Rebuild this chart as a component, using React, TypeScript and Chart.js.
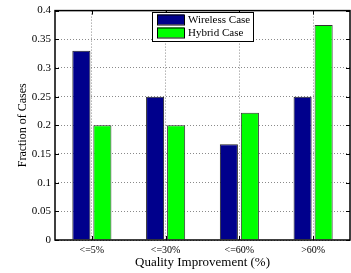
import React, { useEffect, useRef } from "react";
import { Chart, registerables } from "chart.js";

Chart.register(...registerables);

const categories = ["<=5%", "<=30%", "<=60%", ">60%"];
const seriesNames = ["Wireless Case", "Hybrid Case"];
const wirelessValues = [0.33, 0.25, 0.167, 0.25];
const hybridValues = [0.2, 0.2, 0.222, 0.375];
const yTicks = [0, 0.05, 0.1, 0.15, 0.2, 0.25, 0.3, 0.35, 0.4];
const xTitle = "Quality Improvement (%)";
const yTitle = "Fraction of Cases";

const BLUE = "#00008c";
const GREEN = "#00ff00";
const SERIF = "'Liberation Serif', 'Times New Roman', serif";

const framePlugin = {
  id: "matlabFrame",
  afterDatasetsDraw(chart: any) {
    const { ctx, chartArea, scales } = chart;
    const { left, right, top, bottom } = chartArea;
    const x = scales.x;
    const y = scales.y;
    ctx.save();
    ctx.strokeStyle = "#000";
    ctx.lineWidth = 1;
    const tl = 4;
    ctx.beginPath();
    yTicks.forEach((v) => {
      const py = Math.round(y.getPixelForValue(v)) + 0.5;
      ctx.moveTo(left, py);
      ctx.lineTo(left + tl, py);
      ctx.moveTo(right, py);
      ctx.lineTo(right - tl, py);
    });
    categories.forEach((_, i) => {
      const px = Math.round(x.getPixelForTick(i)) + 0.5;
      ctx.moveTo(px, bottom);
      ctx.lineTo(px, bottom - tl);
      ctx.moveTo(px, top);
      ctx.lineTo(px, top + tl);
    });
    ctx.stroke();
    ctx.lineWidth = 1.5;
    ctx.strokeRect(left, top, right - left, bottom - top);

    // legend inside plot
    const lx = 152;
    const ly = 12;
    const lw = 101;
    const lh = 29;
    ctx.fillStyle = "#fff";
    ctx.fillRect(lx, ly, lw, lh);
    ctx.lineWidth = 1;
    ctx.strokeStyle = "#000";
    ctx.strokeRect(lx + 0.5, ly + 0.5, lw, lh);
    chart.data.datasets.forEach((ds: any, i: number) => {
      const sy = ly + 2.5 + i * 13;
      ctx.fillStyle = ds.backgroundColor;
      ctx.fillRect(lx + 5, sy, 27, 10);
      ctx.strokeStyle = "#000";
      ctx.strokeRect(lx + 5.5, sy + 0.5, 27, 10);
      ctx.fillStyle = "#000";
      ctx.font = `11px ${SERIF}`;
      ctx.textBaseline = "middle";
      ctx.textAlign = "left";
      ctx.fillText(ds.label, lx + 36, sy + 6);
    });
    ctx.restore();
  },
};

export default function App() {
  const ref = useRef<HTMLCanvasElement | null>(null);
  useEffect(() => {
    document.body.style.margin = "0";
    const canvas = ref.current;
    if (!canvas) return;
    const chart = new Chart(canvas, {
      type: "bar",
      data: {
        labels: categories,
        datasets: [
          {
            label: seriesNames[0],
            data: wirelessValues,
            backgroundColor: BLUE,
            borderColor: "#222",
            borderWidth: 1,
            categoryPercentage: 0.57,
            barPercentage: 0.86,
          },
          {
            label: seriesNames[1],
            data: hybridValues,
            backgroundColor: GREEN,
            borderColor: "#333",
            borderWidth: 1,
            categoryPercentage: 0.57,
            barPercentage: 0.86,
          },
        ],
      },
      options: {
        responsive: false,
        animation: false,
        devicePixelRatio: 1,
        layout: { padding: { top: 6, right: 1, left: 0, bottom: 0 } },
        plugins: {
          legend: { display: false },
          tooltip: { enabled: false },
        },
        scales: {
          x: {
            offset: true,
            grid: {
              offset: false,
              color: "#8a8a8a",
              drawTicks: false,
              lineWidth: 1,
            },
            border: { display: false, dash: [1, 2] },
            ticks: {
              color: "#000",
              font: { family: SERIF, size: 10 },
              padding: 4,
              maxRotation: 0,
            },
            title: {
              display: true,
              text: xTitle,
              color: "#000",
              font: { family: SERIF, size: 13 },
              padding: { top: 0, bottom: 3 },
            },
            afterFit(scale: any) {
              scale.height = 33;
            },
          },
          y: {
            min: 0,
            max: 0.4,
            grid: {
              color: "#8a8a8a",
              drawTicks: false,
              lineWidth: 1,
            },
            border: { display: false, dash: [1, 2] },
            afterBuildTicks(scale: any) {
              scale.ticks = yTicks.map((v) => ({ value: v }));
            },
            ticks: {
              color: "#000",
              font: { family: SERIF, size: 11 },
              padding: 4,
              callback: (v: any) => String(Number(Number(v).toFixed(2))),
            },
            title: {
              display: true,
              text: yTitle,
              color: "#000",
              font: { family: SERIF, size: 12 },
              padding: { top: 16, bottom: 0 },
            },
            afterFit(scale: any) {
              scale.width = 55;
            },
          },
        },
      },
      plugins: [framePlugin],
    });
    return () => chart.destroy();
  }, []);
  return (
    <div style={{ width: 351, height: 273 }}>
      <canvas ref={ref} width={351} height={273} style={{ display: "block" }} />
    </div>
  );
}
